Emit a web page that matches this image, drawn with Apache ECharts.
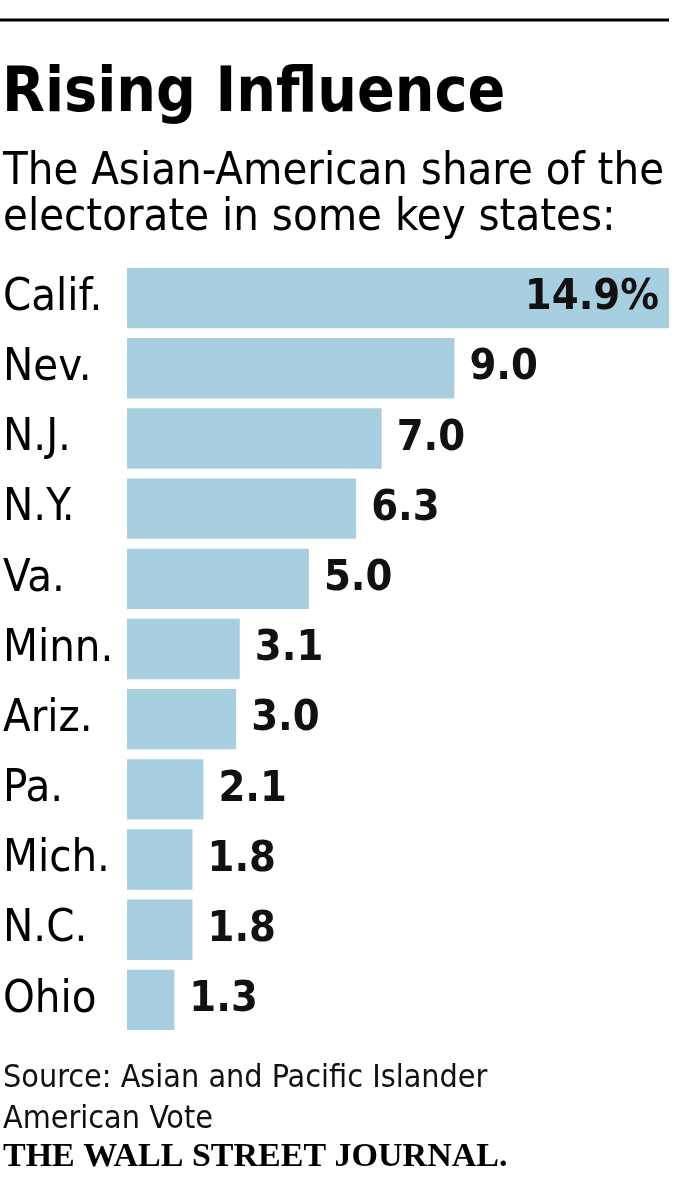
<!DOCTYPE html>
<html><head><meta charset="utf-8">
<script src="https://cdn.jsdelivr.net/npm/echarts@6/dist/echarts.min.js"></script>
<style>html,body{margin:0;padding:0;background:#fff}#c{width:677px;height:1200px}</style>
</head><body><div id="c"></div>
<script>
const states = ['Calif.', 'Nev.', 'N.J.', 'N.Y.', 'Va.', 'Minn.', 'Ariz.', 'Pa.', 'Mich.', 'N.C.', 'Ohio'];
const shares = [14.9, 9.0, 7.0, 6.3, 5.0, 3.1, 3.0, 2.1, 1.8, 1.8, 1.3];
const titleText = 'Rising Influence';
const subtitleLines = ['The Asian-American share of the', 'electorate in some key states:'];
const sourceLines = ['Source: Asian and Pacific Islander', 'American Vote'];
const brand = 'THE WALL STREET JOURNAL.';

const NARROW = '"DejaVu Sans Condensed", sans-serif';
const chart = echarts.init(document.getElementById('c'), null, {renderer: 'canvas'});
const barData = shares.map((v, i) => ({
  value: v,
  label: i === 0
    ? {position: 'insideRight', distance: 10, formatter: v.toFixed(1) + '%'}
    : {position: 'right', distance: 15, formatter: v.toFixed(1)}
}));
chart.setOption({
  animation: false,
  backgroundColor: '#fff',
  graphic: [
    {type: 'line', shape: {x1: 0, y1: 20, x2: 669, y2: 20}, style: {stroke: '#000', lineWidth: 3}},
    {type: 'text', x: 2, y: 126, style: {text: titleText, font: 'bold 62px ' + NARROW, fill: '#000', textVerticalAlign: 'bottom'}},
    {type: 'text', x: 3, y: 195, style: {text: subtitleLines[0], font: '45px ' + NARROW, fill: '#000', textVerticalAlign: 'bottom'}},
    {type: 'text', x: 3, y: 241, style: {text: subtitleLines[1], font: '45px ' + NARROW, fill: '#000', textVerticalAlign: 'bottom'}},
    {type: 'text', x: 3, y: 1095, style: {text: sourceLines[0], font: '32px ' + NARROW, fill: '#111', textVerticalAlign: 'bottom'}},
    {type: 'text', x: 3, y: 1136, style: {text: sourceLines[1], font: '32px ' + NARROW, fill: '#111', textVerticalAlign: 'bottom'}},
    {type: 'text', x: 3, y: 1174, style: {text: brand, font: 'bold 34px "Liberation Serif", serif', fill: '#000', textVerticalAlign: 'bottom'}}
  ],
  grid: {left: 127, right: 8, top: 263, height: 772, containLabel: false},
  xAxis: {type: 'value', min: 0, max: 14.9, show: false},
  yAxis: {
    type: 'category', data: states, inverse: true,
    axisLine: {show: false}, axisTick: {show: false}, splitLine: {show: false},
    axisLabel: {align: 'left', margin: 124, color: '#000', fontSize: 45, fontFamily: NARROW}
  },
  series: [{
    type: 'bar', data: barData, barCategoryGap: '14%',
    itemStyle: {color: '#a7cfdf'},
    label: {show: true, color: '#111', fontSize: 43, fontWeight: 'bold', fontFamily: NARROW}
  }]
});
</script></body></html>
